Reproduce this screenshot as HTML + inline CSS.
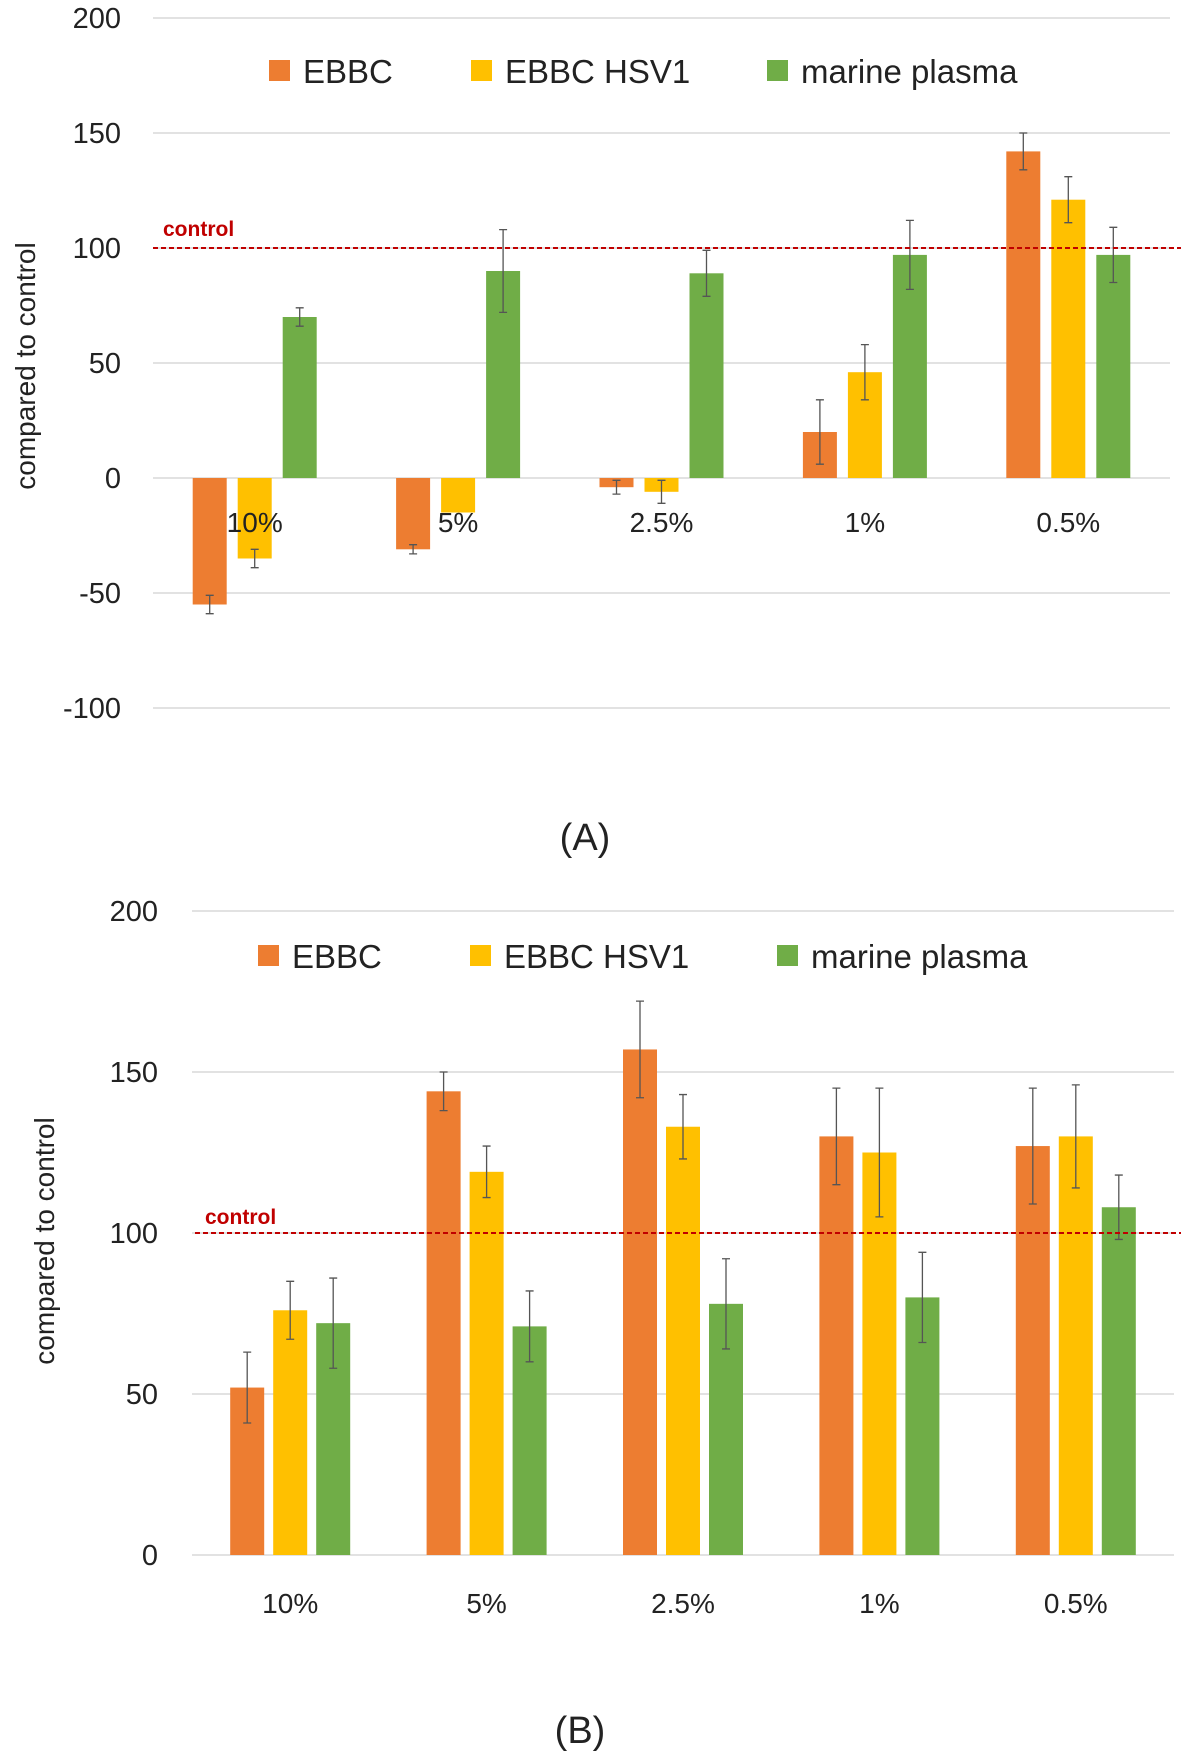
<!DOCTYPE html>
<html><head><meta charset="utf-8"><style>
html,body{margin:0;padding:0;background:#fff;}
svg{display:block;font-family:"Liberation Sans",sans-serif;}
</style></head><body>
<svg id="fig" width="1181" height="1761" viewBox="0 0 1181 1761" xmlns="http://www.w3.org/2000/svg"></svg>
<script>
const categories = ["10%","5%","2.5%","1%","0.5%"];
const seriesNames = ["EBBC","EBBC HSV1","marine plasma"];
const aEBBC = [-55,-31,-4,20,142];
const aEBBCerr = [4,2,3,14,8];
const aHSV1 = [-35,-15,-6,46,121];
const aHSV1err = [4,0,5,12,10];
const aMarine = [70,90,89,97,97];
const aMarineErr = [4,18,10,15,12];
const bEBBC = [52,144,157,130,127];
const bEBBCerr = [11,6,15,15,18];
const bHSV1 = [76,119,133,125,130];
const bHSV1err = [9,8,10,20,16];
const bMarine = [72,71,78,80,108];
const bMarineErr = [14,11,14,14,10];
const aTicks = [200,150,100,50,0,-50,-100];
const bTicks = [200,150,100,50,0];
const controlValue = 100;

const NS="http://www.w3.org/2000/svg";
const svg=document.getElementById('fig');
const colors=["#ED7D31","#FFC000","#70AD47"];
function mk(tag,attrs,parent){const e=document.createElementNS(NS,tag);for(const k in attrs)e.setAttribute(k,attrs[k]);(parent||svg).appendChild(e);return e;}

function drawChart(cfg){
  const g=mk('g',{});
  
  
  const y=v=>cfg.y0-(v)*cfg.ppu;
  const groupW=(cfg.x1-cfg.x0)/categories.length;
  const cx=i=>cfg.x0+groupW*(i+0.5);
  cfg.ticks.forEach(t=>{
    const l=mk('line',{x1:cfg.x0,x2:cfg.x1,y1:y(t),y2:y(t),stroke:'#d9d9d9','stroke-width':1.5},g);
    
    
    const tx=mk('text',{x:cfg.tickX,y:y(t)+10,'text-anchor':'end','font-size':29,fill:'#222'},g);
    tx.textContent=t;
    
    
  });
  const series=[cfg.s0,cfg.s1,cfg.s2], errs=[cfg.e0,cfg.e1,cfg.e2];
  const off=[-cfg.step,0,cfg.step], bw=34;
  series.forEach((arr,s)=>{
    arr.forEach((v,i)=>{
      const x=cx(i)+off[s];
      const top=Math.min(y(v),y(0)), h=Math.abs(y(v)-y(0));
      const r=mk('rect',{x:x-bw/2,y:top,width:bw,height:h,fill:colors[s]},g);
      
      
      const e=errs[s][i];
      if(e>0){
        const eb=mk('path',{d:`M${x},${y(v+e)}V${y(v-e)}M${x-4},${y(v+e)}H${x+4}M${x-4},${y(v-e)}H${x+4}`,stroke:'#555','stroke-width':1.3,fill:'none'},g);
        
        
      }
    });
  });
  categories.forEach((c,i)=>{
    const t=mk('text',{x:cx(i),y:cfg.catY,'text-anchor':'middle','font-size':28,fill:'#222'},g);
    t.textContent=c;
    
    
  });
  const cl=mk('line',{x1:cfg.ctrlX,x2:1181,y1:y(controlValue),y2:y(controlValue),stroke:'#C00000','stroke-width':2,'stroke-dasharray':'5,3'},g);
  
  
  const ct=mk('text',{x:cfg.ctrlX+10,y:cfg.ctrlLabelY,'font-size':21,'font-weight':'bold',fill:'#C00000'},g);
  ct.textContent='control';
  
  
  cfg.legend.forEach((lx,s)=>{
    const sq=mk('rect',{x:lx,y:cfg.legY-11,width:21,height:21,fill:colors[s]},g);
    
    
    const lt=mk('text',{x:lx+34,y:cfg.legY+12,'font-size':33,fill:'#222'},g);
    lt.textContent=seriesNames[s];
    
    
  });
  const yt=mk('text',{x:0,y:0,'font-size':28,'text-anchor':'middle',fill:'#222',transform:`translate(${cfg.titleX},${cfg.titleY}) rotate(-90)`},g);
  yt.textContent='compared to control';
  
  
  const p=mk('text',{x:cfg.panelX,y:cfg.panelY,'font-size':38,'text-anchor':'middle',fill:'#222'},g);
  p.textContent=cfg.panel;
  
  
}

drawChart({name:'chart-a',x0:153,x1:1170,y0:478,ppu:2.3,ticks:aTicks,tickX:121,step:45,
  s0:aEBBC,s1:aHSV1,s2:aMarine,e0:aEBBCerr,e1:aHSV1err,e2:aMarineErr,catY:532,
  ctrlX:153,ctrlLabelY:236,legend:[269,471,767],legY:71,titleX:35,titleY:366,panel:'(A)',panelX:585,panelY:850});
drawChart({name:'chart-b',x0:192,x1:1174,y0:1555,ppu:3.22,ticks:bTicks,tickX:158,step:43,
  s0:bEBBC,s1:bHSV1,s2:bMarine,e0:bEBBCerr,e1:bHSV1err,e2:bMarineErr,catY:1613,
  ctrlX:195,ctrlLabelY:1224,legend:[258,470,777],legY:956,titleX:54,titleY:1241,panel:'(B)',panelX:580,panelY:1743});
</script>
</body></html>
